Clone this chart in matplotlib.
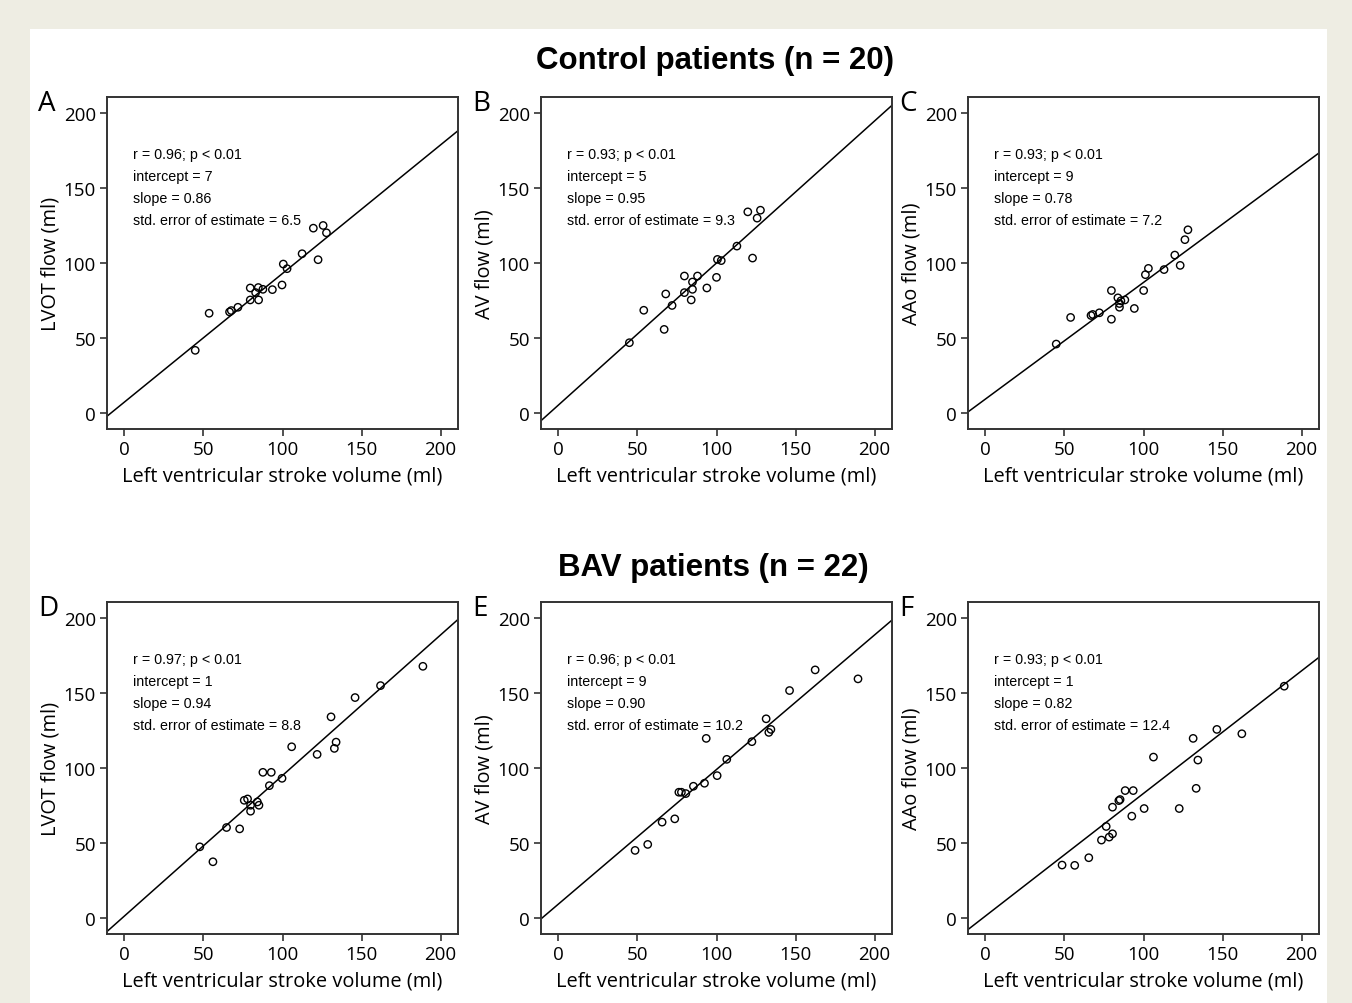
import numpy as np
import matplotlib.pyplot as plt
from matplotlib.patches import Rectangle

# left ventricular stroke volume (x) vs flow (y)
ctrl_lvot_x = [44.8, 53.6, 66.5, 67.6, 71.8, 79.6, 79.6, 83.0, 84.7, 84.9,
               87.6, 93.6, 99.7, 100.5, 102.9, 112.4, 119.5, 122.5, 125.7, 127.8]
ctrl_lvot_y = [41.6, 66.4, 67.3, 68.2, 70.4, 83.3, 75.3, 80.2, 83.6, 75.3,
               82.4, 82.2, 85.3, 99.3, 96.2, 106.2, 123.3, 102.2, 125.1, 120.2]

ctrl_av_x = [44.9, 54.0, 66.9, 67.9, 71.9, 79.7, 79.7, 84.0, 84.8, 84.8,
             88.0, 93.9, 100.0, 100.6, 103.0, 112.9, 119.8, 122.8, 125.7, 127.8]
ctrl_av_y = [46.7, 68.4, 55.6, 79.3, 71.6, 91.3, 80.2, 75.3, 87.3, 82.4,
             91.3, 83.3, 90.4, 102.4, 101.6, 111.3, 134.2, 103.3, 130.0, 135.3]

ctrl_aao_x = [44.8, 53.9, 66.8, 67.9, 72.1, 79.7, 79.7, 83.8, 84.8, 84.8, 85.7,
              88.2, 94.2, 100.1, 101.2, 103.1, 113.0, 119.8, 123.2, 126.2, 128.1]
ctrl_aao_y = [45.8, 63.6, 64.9, 65.6, 66.7, 81.6, 62.4, 76.7, 72.9, 70.4, 74.7,
              75.3, 69.6, 81.6, 92.2, 96.4, 95.6, 105.3, 98.4, 115.6, 122.2]

bav_lvot_x = [47.7, 56.0, 64.6, 72.9, 75.8, 77.9, 79.8, 79.8, 84.1, 85.1, 87.6,
              91.7, 92.9, 99.7, 105.8, 121.9, 130.7, 132.8, 133.9, 145.9, 162.0, 188.8]
bav_lvot_y = [47.3, 37.3, 60.2, 59.3, 78.4, 79.3, 75.1, 71.1, 77.3, 75.1, 97.1,
              88.2, 97.1, 93.1, 114.2, 109.1, 134.2, 113.1, 117.3, 147.1, 155.1, 168.0]

bav_av_x = [48.5, 56.5, 65.6, 73.6, 76.2, 77.8, 80.6, 85.4, 92.4, 93.5,
            100.4, 106.5, 122.4, 131.4, 133.1, 134.4, 146.2, 162.4, 189.5]
bav_av_y = [44.9, 48.9, 63.8, 66.0, 83.8, 83.8, 82.9, 87.8, 89.8, 119.8,
            94.9, 105.8, 117.6, 132.9, 123.8, 125.8, 151.8, 165.6, 159.6]

bav_aao_x = [48.5, 56.5, 65.4, 73.4, 78.3, 80.4, 76.4, 80.4, 84.4, 85.2, 88.4,
             92.6, 93.5, 100.4, 106.3, 122.6, 131.4, 133.3, 134.4, 146.4, 162.2, 189.0]
bav_aao_y = [35.1, 34.9, 40.0, 51.8, 53.8, 56.0, 60.9, 73.8, 78.2, 78.9, 84.9,
             67.8, 84.9, 72.9, 107.3, 72.9, 119.8, 86.4, 105.3, 125.8, 122.9, 154.7]

letters = ['A', 'B', 'C', 'D', 'E', 'F']
ylabels = ['LVOT flow (ml)', 'AV flow (ml)', 'AAo flow (ml)'] * 2
r_vals = ['0.96', '0.93', '0.93', '0.97', '0.96', '0.93']
intercepts = [7, 5, 9, 1, 9, 1]
slopes = [0.86, 0.95, 0.78, 0.94, 0.90, 0.82]
std_errors = ['6.5', '9.3', '7.2', '8.8', '10.2', '12.4']

xs = [ctrl_lvot_x, ctrl_av_x, ctrl_aao_x, bav_lvot_x, bav_av_x, bav_aao_x]
ys = [ctrl_lvot_y, ctrl_av_y, ctrl_aao_y, bav_lvot_y, bav_av_y, bav_aao_y]

W, H = 1352, 1004
fig = plt.figure(figsize=(W / 100, H / 100), dpi=100)
fig.patch.set_facecolor('#eeede3')
fig.add_artist(Rectangle((30 / W, 0), (1327 - 30) / W, (H - 30) / H,
                         transform=fig.transFigure, facecolor='white',
                         edgecolor='none', zorder=0))

tick_font = 'Open Sans'
note_font = ['Liberation Sans Narrow', 'Liberation Sans']

lefts = [107, 541, 968]
tops = [98, 603]
aw, ah = 351, 332

fig.text(715 / W, 1 - 61 / H, 'Control patients (n = 20)', ha='center', va='center',
         fontsize=22.5, fontweight='bold', family='Liberation Sans')
fig.text(713 / W, 1 - 568 / H, 'BAV patients (n = 22)', ha='center', va='center',
         fontsize=22.5, fontweight='bold', family='Liberation Sans')

for i in range(6):
    left = lefts[i % 3]
    top = tops[i // 3]
    ax = fig.add_axes([left / W, 1 - (top + ah) / H, aw / W, ah / H])
    ax.set_xlim(-11, 211)
    ax.set_ylim(-11, 211)
    ax.scatter(xs[i], ys[i], s=28, facecolors='none', edgecolors='black', linewidths=1.0, zorder=3)
    lx = np.array(ax.get_xlim())
    ax.plot(lx, intercepts[i] + slopes[i] * lx, color='black', lw=1.1, zorder=2)

    ax.set_xticks([0, 50, 100, 150, 200])
    ax.set_yticks([0, 50, 100, 150, 200])
    ax.tick_params(direction='out', length=5, width=1.2, color='#333333',
                   labelsize=13.5, pad=3)
    for lab in ax.get_xticklabels() + ax.get_yticklabels():
        lab.set_family(tick_font)
    for sp in ax.spines.values():
        sp.set_linewidth(1.4)
        sp.set_color('#333333')

    ax.set_xlabel('Left ventricular stroke volume (ml)', family=tick_font, fontsize=14.4, labelpad=5)
    ax.set_ylabel(ylabels[i], family=tick_font, fontsize=14.4, labelpad=2)

    lines = [f'r = {r_vals[i]}; p < 0.01', f'intercept = {intercepts[i]}',
             f'slope = {slopes[i]:.2f}', f'std. error of estimate = {std_errors[i]}']
    for k, t in enumerate(lines):
        ax.text(0.074, 0.828 - k * 0.0663, t, transform=ax.transAxes, va='center',
                ha='left', fontsize=10.3, family=note_font)

    fig.text((left - 69) / W, 1 - (top + 6) / H, letters[i], ha='left', va='center',
             fontsize=20, family=tick_font)

plt.savefig('out.png', dpi=100, facecolor=fig.get_facecolor())
